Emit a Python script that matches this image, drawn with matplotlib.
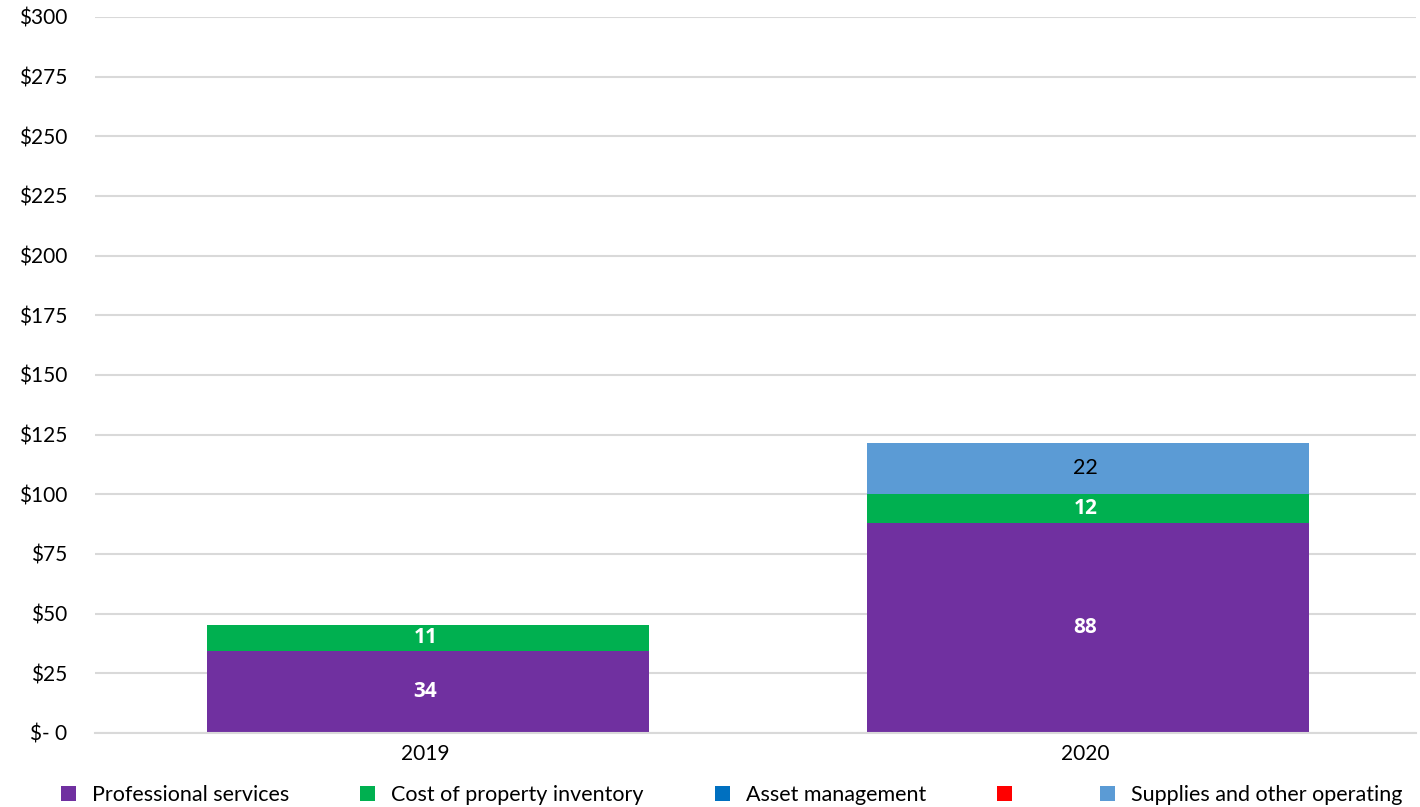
import matplotlib
matplotlib.use("Agg")
import matplotlib.pyplot as plt
import numpy as np

plt.rcParams['font.family'] = ['Lato', 'DejaVu Sans']

years = ["2019", "2020"]
series_names = ["Professional services", "Cost of property inventory",
                "Asset management", "", "Supplies and other operating"]
series_colors = ["#7030a0", "#00b050", "#0070c0", "#ff0000", "#5b9bd5"]
professional = [34.4, 88.0]
cost_inventory = [10.9, 12.1]
asset_mgmt = [0, 0]
red_series = [0, 0]
supplies = [0, 21.5]
label_colors = ["white", "white", "white", "white", "black"]
label_weights = ["bold", "bold", "bold", "bold", "normal"]

yticks = np.arange(0, 301, 25)
ytick_labels = ["$- 0"] + ["$" + str(v) for v in yticks[1:]]

fig = plt.figure(figsize=(14.2, 8.07), dpi=100)
ax = fig.add_axes([0.067, 0.0917, 0.930, 0.8873])

x = np.arange(len(years))
bottom = np.zeros(len(years))
handles = []
all_series = [professional, cost_inventory, asset_mgmt, red_series, supplies]
for vals, name, col, lc, lw in zip(all_series, series_names, series_colors,
                                   label_colors, label_weights):
    vals = np.array(vals, dtype=float)
    b = ax.bar(x + 0.004, vals, 0.67, bottom=bottom, color=col, label=name, zorder=2)
    handles.append(b)
    for xi, v, bo in zip(x, vals, bottom):
        if v > 0:
            fam = ['Open Sans', 'DejaVu Sans'] if lw == "bold" else ['Lato', 'DejaVu Sans']
            ax.text(xi, bo + v / 2, "%.0f" % v, ha="center", va="center",
                    color=lc, fontsize=15 if lw == "bold" else 15.5,
                    fontweight=lw, family=fam, zorder=4)
    bottom += vals

ax.set_xlim(-0.5, 1.5)
ax.set_ylim(0, 300)
ax.set_yticks(yticks)
ax.set_yticklabels(ytick_labels, fontsize=15)
ax.set_xticks(x)
ax.set_xticklabels(years, fontsize=15)
ax.tick_params(axis="both", length=0)
ax.tick_params(axis="y", pad=20)
ax.tick_params(axis="x", pad=8)
ax.yaxis.grid(True, color="#d9d9d9", linewidth=1.5, zorder=0)
ax.set_axisbelow(True)
for s in ["top", "right", "left"]:
    ax.spines[s].set_visible(False)
ax.spines["bottom"].set_color("#d9d9d9")
ax.spines["bottom"].set_linewidth(1.5)

fig.legend(handles=handles, labels=series_names, loc="lower left",
           bbox_to_anchor=(0.029, -0.022), ncol=5, frameon=False, fontsize=15.5,
           handlelength=0.7, handleheight=0.7, handletextpad=0.75,
           columnspacing=3.3)

fig.savefig("out.png", dpi=100)
